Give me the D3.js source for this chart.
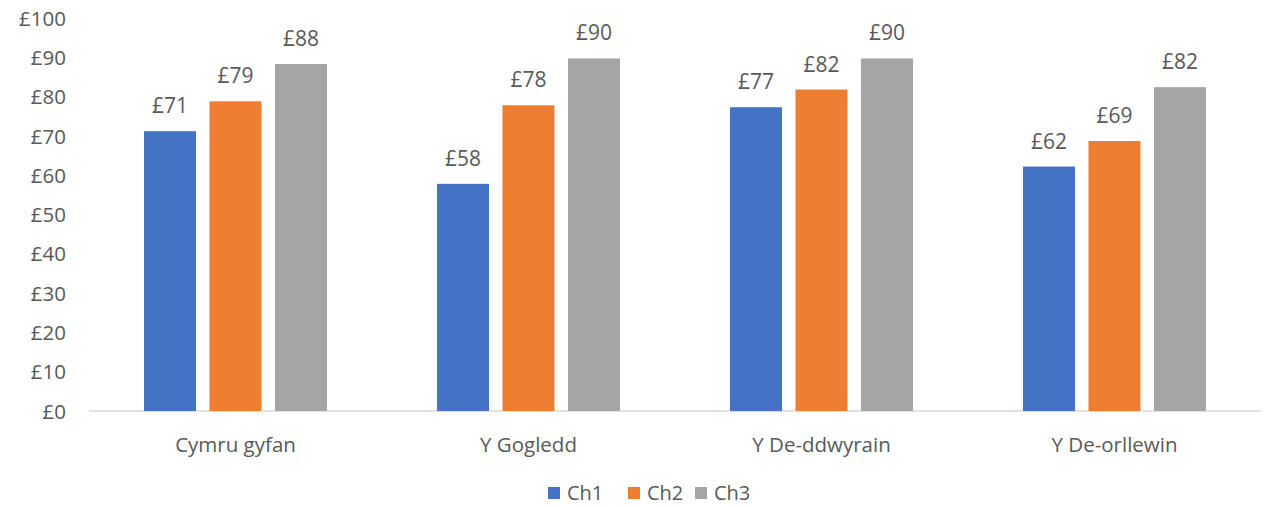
<!DOCTYPE html>
<meta charset="utf-8">
<style>
  body { margin: 0; background: #fff; }
  svg text { font-family: "Open Sans", "Noto Sans", sans-serif; fill: #595959; }
</style>
<svg width="1266" height="507"></svg>
<script src="https://d3js.org/d3.v7.min.js"></script>
<script>

var regions = ["Cymru gyfan", "Y Gogledd", "Y De-ddwyrain", "Y De-orllewin"];
var seriesNames = ["Ch1", "Ch2", "Ch3"];
var ch1 = [71.2, 57.8, 77.3, 62.2];
var ch2 = [78.8, 77.8, 81.8, 68.7];
var ch3 = [88.3, 89.7, 89.7, 82.4];
var colors = ["#4472c4", "#ed7d31", "#a5a5a5"];
var yTicks = [0, 10, 20, 30, 40, 50, 60, 70, 80, 90, 100];

var svg = d3.select("svg");
var values = [ch1, ch2, ch3];

var x = d3.scaleBand().domain(regions).range([89, 1261]).paddingInner(0).paddingOuter(0);
var x1 = d3.scaleBand().domain(seriesNames).range([0, x.bandwidth()]).paddingInner(0.206).paddingOuter(0.84);
var y = d3.scaleLinear().domain([0, 100]).range([411, 18]);

// y axis labels
var yAxis = svg.append("g")
    .attr("transform", "translate(66,0)")
    .call(d3.axisLeft(y).tickValues(yTicks).tickSize(0).tickPadding(0).tickFormat(function(d) { return "£" + d; }));
yAxis.select(".domain").remove();
yAxis.selectAll("text").style("font-size", "20.5px").attr("dy", "0.35em");

// baseline
svg.append("line")
    .attr("x1", 89).attr("x2", 1261)
    .attr("y1", y(0)).attr("y2", y(0))
    .attr("stroke", "#d9d9d9").attr("stroke-width", 1.5);

// category labels
var xAxis = svg.append("g")
    .attr("transform", "translate(0," + y(0) + ")")
    .call(d3.axisBottom(x).tickSize(0).tickPadding(26));
xAxis.select(".domain").remove();
xAxis.selectAll("text").style("font-size", "20.5px");

// bars
var groups = svg.append("g").selectAll("g")
    .data(regions)
    .enter().append("g")
    .attr("transform", function(d) { return "translate(" + x(d) + ",0)"; });

seriesNames.forEach(function(s, i) {
    groups.append("rect")
        .attr("x", x1(s))
        .attr("width", x1.bandwidth())
        .attr("y", function(d, j) { return y(values[i][j]); })
        .attr("height", function(d, j) { return y(0) - y(values[i][j]); })
        .attr("fill", colors[i]);

    groups.append("text")
        .attr("x", x1(s) + x1.bandwidth() / 2)
        .attr("y", function(d, j) { return y(values[i][j]) - 18; })
        .attr("text-anchor", "middle")
        .style("font-size", "21px")
        .text(function(d, j) { return "£" + Math.round(values[i][j]); });
});

// legend
var legend = svg.append("g").attr("transform", "translate(548,487)");
var lx = [0, 80, 147];
seriesNames.forEach(function(s, i) {
    var g = legend.append("g").attr("transform", "translate(" + lx[i] + ",0)");
    g.append("rect").attr("x", 0).attr("y", 0).attr("width", 12).attr("height", 12).attr("fill", colors[i]);
    g.append("text").attr("x", 19).attr("y", 6).attr("dy", "0.35em").style("font-size", "20px").text(s);
});

</script>
